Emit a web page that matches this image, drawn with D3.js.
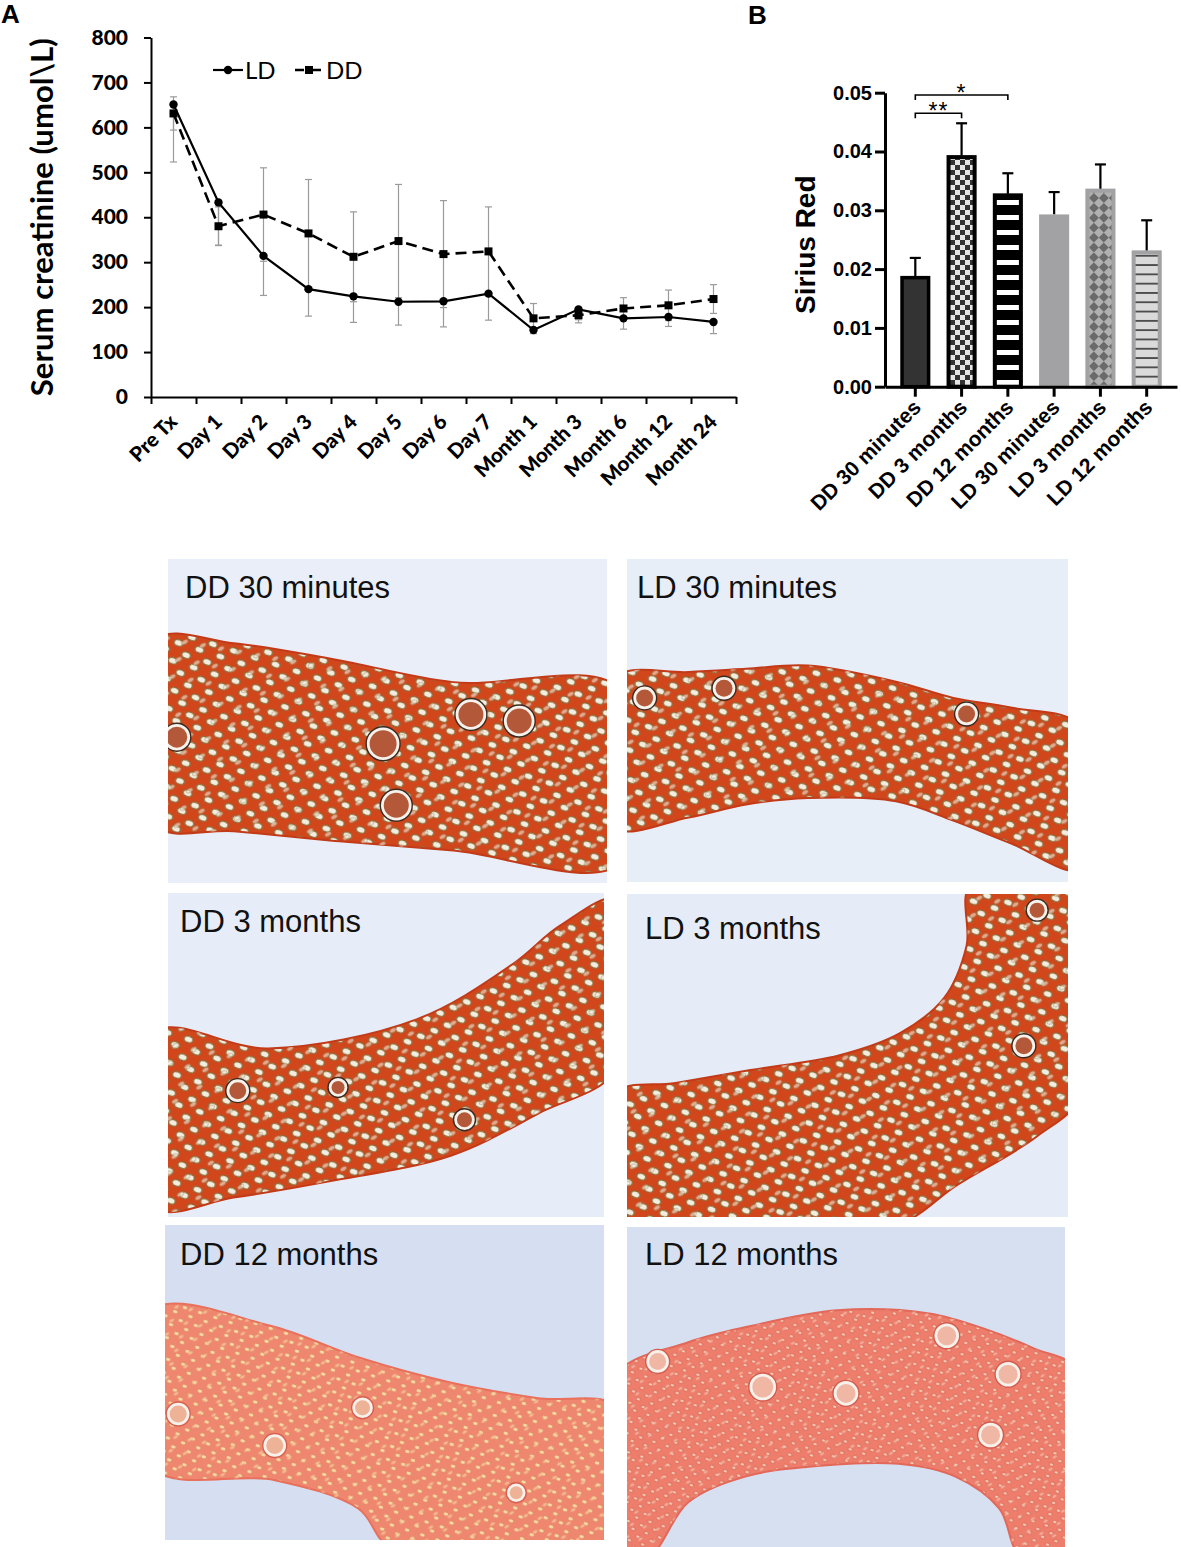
<!DOCTYPE html>
<html>
<head>
<meta charset="utf-8">
<script src="https://cdn.jsdelivr.net/npm/d3@7"></script>
<style>
  body { margin: 0; background: #fff; }
  svg { display: block; }
</style>
</head>
<body>
<div id="fig"></div>
<script>
// ---- Panel A: serum creatinine over time
const timepoints = ["Pre Tx", "Day 1", "Day 2", "Day 3", "Day 4", "Day 5", "Day 6", "Day 7",
                    "Month 1", "Month 3", "Month 6", "Month 12", "Month 24"];
const ldCreatinine = [651, 433, 314, 240, 224, 212, 213, 230, 149, 195, 175, 178, 167];
const ddCreatinine = [631, 380, 406, 364, 312, 347, 318, 324, 175, 182, 197, 204, 218];
const ldSD = [128, 95, 88, 60, 58, 52, 57, 59, 8, 30, 24, 21, 26];
const ddSD = [37, 43, 104, 120, 100, 126, 119, 99, 33, 10, 24, 34, 32];
const creatTicks = [0, 100, 200, 300, 400, 500, 600, 700, 800];

// ---- Panel B: Sirius Red quantification
const srGroups = ["DD 30 minutes", "DD 3 months", "DD 12 months", "LD 30 minutes", "LD 3 months", "LD 12 months"];
const srMeans = [0.0188, 0.0393, 0.0328, 0.0293, 0.0336, 0.0231];
const srSEM = [0.0031, 0.0055, 0.0035, 0.0038, 0.0042, 0.0052];
const srTicks = [0, 0.01, 0.02, 0.03, 0.04, 0.05];
const srComparisons = [{a: 0, b: 1, at: 0.0465, label: "**"}, {a: 0, b: 2, at: 0.0496, label: "*"}];

// ---- Micrograph captions
const photoLabels = ["DD 30 minutes", "LD 30 minutes", "DD 3 months", "LD 3 months", "DD 12 months", "LD 12 months"];

const W = 1181, H = 1547;
const svg = d3.select("#fig").append("svg").attr("width", W).attr("height", H);
svg.append("rect").attr("width", W).attr("height", H).attr("fill", "#fff");
const defs = svg.append("defs");

// ================= Panel A =================
const fontA = "Lato, 'Open Sans', sans-serif";
const gA = svg.append("g");
const xA = d3.scaleBand().domain(timepoints).range([151, 736]);
const edgeA = d3.scaleLinear().domain([0, timepoints.length]).range(xA.range());
const yA = d3.scaleLinear().domain([0, 800]).range([397, 37.5]);
const cx = d => xA(d) + xA.bandwidth() / 2;

gA.append("g").attr("transform", `translate(${xA.range()[0]},0)`)
  .call(d3.axisLeft(yA).tickValues(creatTicks).tickSize(7).tickSizeOuter(0).tickPadding(16))
  .call(g => g.selectAll("text").attr("font-family", fontA).attr("font-weight", 900)
    .attr("font-size", 21).attr("fill", "#000"));

gA.append("g").attr("transform", `translate(0,${yA(0)})`)
  .call(d3.axisBottom(edgeA).tickValues(d3.range(timepoints.length + 1)).tickFormat("")
    .tickSize(7).tickSizeOuter(0));

gA.selectAll(".domain, .tick line").attr("stroke", "#000").attr("stroke-width", 2);

gA.selectAll(".xlab").data(timepoints).join("text")
  .attr("transform", d => `translate(${cx(d) + 5},${yA(0) + 26}) rotate(-45)`)
  .attr("text-anchor", "end")
  .attr("font-family", fontA).attr("font-weight", 900).attr("font-size", 20.5)
  .text(d => d);

const yTitle = gA.append("text")
  .attr("transform", `translate(53,${(yA(0) + yA(800)) / 2}) rotate(-90)`)
  .attr("text-anchor", "middle")
  .attr("font-family", fontA).attr("font-weight", 700).attr("font-size", 31)
  .text("Serum creatinine (umol\\L)");
const tl = yTitle.node().getComputedTextLength();
yTitle.attr("font-size", 31 * 358 / tl);

// error bars (grey)
const errCol = "#9a9a9a";
function errBar(g, x, y1, y2, capTop, capBot) {
  g.append("line").attr("x1", x).attr("x2", x).attr("y1", y1).attr("y2", y2)
    .attr("stroke", errCol).attr("stroke-width", 1.2);
  if (capTop) g.append("line").attr("x1", x - 3.5).attr("x2", x + 3.5).attr("y1", y1).attr("y2", y1)
    .attr("stroke", errCol).attr("stroke-width", 1.2);
  if (capBot) g.append("line").attr("x1", x - 3.5).attr("x2", x + 3.5).attr("y1", y2).attr("y2", y2)
    .attr("stroke", errCol).attr("stroke-width", 1.2);
}
const gErr = gA.append("g");
timepoints.forEach((t, i) => {
  errBar(gErr, cx(t), yA(ddCreatinine[i] + ddSD[i]), yA(ddCreatinine[i] - ddSD[i]), true, true);
  errBar(gErr, cx(t), yA(ldCreatinine[i]), yA(ldCreatinine[i] - ldSD[i]), false, true);
});

const lineGen = d3.line().x((d, i) => cx(timepoints[i])).y(d => yA(d));
gA.append("path").datum(ddCreatinine).attr("d", lineGen).attr("fill", "none")
  .attr("stroke", "#000").attr("stroke-width", 2.6).attr("stroke-dasharray", "11,6");
gA.append("path").datum(ldCreatinine).attr("d", lineGen).attr("fill", "none")
  .attr("stroke", "#000").attr("stroke-width", 2.2);

gA.selectAll(".sq").data(ddCreatinine).join("rect")
  .attr("x", (d, i) => cx(timepoints[i]) - 4).attr("y", d => yA(d) - 4)
  .attr("width", 8).attr("height", 8).attr("fill", "#000");
gA.selectAll(".ci").data(ldCreatinine).join("circle")
  .attr("cx", (d, i) => cx(timepoints[i])).attr("cy", d => yA(d)).attr("r", 4.2).attr("fill", "#000");

// legend
const lg = gA.append("g").attr("transform", "translate(213,70)");
lg.append("line").attr("x1", 0).attr("x2", 30).attr("stroke", "#000").attr("stroke-width", 2.2);
lg.append("circle").attr("cx", 15).attr("r", 4.2).attr("fill", "#000");
lg.append("text").attr("x", 32).attr("y", 8.5).attr("font-family", fontA).attr("font-size", 24).text("LD");
lg.append("line").attr("x1", 82).attr("x2", 112).attr("stroke", "#000").attr("stroke-width", 2.6)
  .attr("stroke-dasharray", "9,8");
lg.append("rect").attr("x", 92).attr("y", -4).attr("width", 8).attr("height", 8).attr("fill", "#000");
lg.append("text").attr("x", 113).attr("y", 8.5).attr("font-family", fontA).attr("font-size", 24).text("DD");

svg.append("text").attr("x", 1).attr("y", 23).attr("font-family", "'Liberation Sans', Arial, sans-serif")
  .attr("font-weight", 700).attr("font-size", 26).text("A");

// ================= Panel B =================
const fontB = "'Liberation Sans', Arial, sans-serif";
const gB = svg.append("g");
const xB = d3.scaleBand().domain(srGroups).range([885, 1177]).paddingInner(0.35).paddingOuter(0.33);
const yB = d3.scaleLinear().domain([0, 0.05]).range([386.7, 92.7]);
const cB = d => xB(d) + xB.bandwidth() / 2;

// patterns
const pChk = defs.append("pattern").attr("id", "chk").attr("patternUnits", "userSpaceOnUse")
  .attr("width", 10).attr("height", 10);
pChk.append("rect").attr("width", 10).attr("height", 10).attr("fill", "#e6e6e6");
pChk.append("rect").attr("width", 5).attr("height", 5).attr("fill", "#333");
pChk.append("rect").attr("x", 5).attr("y", 5).attr("width", 5).attr("height", 5).attr("fill", "#333");

const pStr = defs.append("pattern").attr("id", "str").attr("patternUnits", "userSpaceOnUse")
  .attr("width", 40).attr("height", 15);
pStr.append("rect").attr("width", 40).attr("height", 15).attr("fill", "#000");
pStr.append("rect").attr("y", 5).attr("width", 40).attr("height", 5).attr("fill", "#fff");

const pDia = defs.append("pattern").attr("id", "dia").attr("patternUnits", "userSpaceOnUse")
  .attr("width", 14).attr("height", 14).attr("patternTransform", "rotate(45)");
pDia.append("rect").attr("width", 14).attr("height", 14).attr("fill", "#6a6a6a");
pDia.append("rect").attr("width", 7).attr("height", 7).attr("fill", "#b0b0b0");
pDia.append("rect").attr("x", 7).attr("y", 7).attr("width", 7).attr("height", 7).attr("fill", "#b0b0b0");

const pLin = defs.append("pattern").attr("id", "lin").attr("patternUnits", "userSpaceOnUse")
  .attr("width", 40).attr("height", 9.3);
pLin.append("rect").attr("width", 40).attr("height", 9.3).attr("fill", "#dadada");
pLin.append("rect").attr("y", 4).attr("width", 40).attr("height", 1.3).attr("fill", "#111");

const barStyle = [
  {fill: "#333333", stroke: "#000", sw: 3.5},
  {fill: "url(#chk)", stroke: "#000", sw: 4},
  {fill: "url(#str)", stroke: "#000", sw: 4},
  {fill: "#a2a2a4", stroke: "#a2a2a4", sw: 3},
  {fill: "url(#dia)", stroke: "#a2a2a4", sw: 4},
  {fill: "url(#lin)", stroke: "#a2a2a4", sw: 4}
];

// error bars (behind bars)
gB.selectAll(".eb").data(srMeans).join("line")
  .attr("x1", (d, i) => cB(srGroups[i])).attr("x2", (d, i) => cB(srGroups[i]))
  .attr("y1", d => yB(d)).attr("y2", (d, i) => yB(d + srSEM[i]))
  .attr("stroke", "#000").attr("stroke-width", 2.2);
gB.selectAll(".ec").data(srMeans).join("line")
  .attr("x1", (d, i) => cB(srGroups[i]) - 5.5).attr("x2", (d, i) => cB(srGroups[i]) + 5.5)
  .attr("y1", (d, i) => yB(d + srSEM[i])).attr("y2", (d, i) => yB(d + srSEM[i]))
  .attr("stroke", "#000").attr("stroke-width", 2.2);

gB.selectAll(".bar").data(srMeans).join("rect")
  .attr("x", (d, i) => xB(srGroups[i]) + barStyle[i].sw / 2)
  .attr("width", (d, i) => xB.bandwidth() - barStyle[i].sw)
  .attr("y", d => yB(d) + 1.5)
  .attr("height", d => yB(0) - yB(d) - 1.5)
  .attr("fill", (d, i) => barStyle[i].fill)
  .attr("stroke", (d, i) => barStyle[i].stroke)
  .attr("stroke-width", (d, i) => barStyle[i].sw);

gB.append("g").attr("transform", `translate(${xB.range()[0]},0)`)
  .call(d3.axisLeft(yB).tickValues(srTicks).tickFormat(d3.format(".2f")).tickSize(10).tickSizeOuter(0).tickPadding(3))
  .call(g => g.selectAll("text").attr("font-family", fontB).attr("font-weight", 700)
    .attr("font-size", 20).attr("fill", "#000"));
gB.append("g").attr("transform", `translate(0,${yB(0)})`)
  .call(d3.axisBottom(xB).tickSize(10).tickSizeOuter(0).tickFormat(""));
gB.selectAll(".domain, .tick line").attr("stroke", "#000").attr("stroke-width", 3);

gB.selectAll(".xl").data(srGroups).join("text")
  .attr("transform", d => `translate(${cB(d) + 7},${yB(0) + 22}) rotate(-45)`)
  .attr("text-anchor", "end")
  .attr("font-family", fontB).attr("font-weight", 700).attr("font-size", 21)
  .text(d => d);

gB.append("text").attr("transform", `translate(815,${(yB(0) + yB(0.05)) / 2 + 5}) rotate(-90)`)
  .attr("text-anchor", "middle").attr("font-family", fontB).attr("font-weight", 700)
  .attr("font-size", 28).text("Sirius Red");

srComparisons.forEach(c => {
  const x1 = cB(srGroups[c.a]), x2 = cB(srGroups[c.b]), y = yB(c.at);
  gB.append("path").attr("d", `M${x1},${y + 5}V${y}H${x2}V${y + 5}`)
    .attr("fill", "none").attr("stroke", "#000").attr("stroke-width", 1.6);
  gB.append("text").attr("x", (x1 + x2) / 2).attr("y", y + 6).attr("text-anchor", "middle")
    .attr("font-family", fontB).attr("font-size", 23).attr("letter-spacing", 1).text(c.label);
});

svg.append("text").attr("x", 748).attr("y", 24).attr("font-family", fontB)
  .attr("font-weight", 700).attr("font-size", 26).text("B");

// ================= Micrographs (drawn approximations) =================
const photoBoxes = [
  {x: 168, y: 559, w: 439, h: 324}, {x: 627, y: 559, w: 441, h: 323},
  {x: 168, y: 893, w: 436, h: 324}, {x: 627, y: 894, w: 441, h: 323},
  {x: 165, y: 1225, w: 439, h: 315}, {x: 627, y: 1227, w: 438, h: 320}
];
const labelOffset = [[17, 39], [10, 39], [12, 39], [18, 45], [15, 40], [18, 38]];
const photoBg = ["#e9eef8", "#e8eef8", "#e7edf8", "#e6ecf7", "#d5dff1", "#d7e0f1"];
const tissueKind = ["dense", "dense", "dense", "dense", "paleY", "paleP"];
const tissueOutline = [
  [[-.03,.25],[.15,.26],[.38,.31],[.65,.38],[1.03,.40],[1.03,.94],[.65,.90],[.38,.87],[.15,.84],[-.03,.82]],
  [[-.03,.37],[.14,.35],[.27,.34],[.41,.33],[.61,.38],[.74,.43],[.87,.46],[1.03,.52],
   [1.03,.96],[.87,.88],[.74,.81],[.61,.75],[.41,.74],[.27,.76],[.14,.80],[-.03,.83]],
  [[-.03,.43],[.23,.48],[.57,.39],[.79,.22],[.9,.1],[1.03,.02],
   [1.03,.54],[.85,.68],[.65,.81],[.37,.89],[.15,.94],[-.03,.97]],
  [[-.03,.62],[.11,.585],[.28,.545],[.48,.50],[.62,.43],[.72,.32],[.77,.16],[.78,-.03],
   [1.03,-.03],[1.03,.62],[.93,.75],[.75,.90],[.6,1.03],[-.03,1.03]],
  [[-.03,.27],[.24,.32],[.44,.42],[.65,.50],[.85,.55],[1.03,.58],
   [1.03,1.03],[.52,1.03],[.44,.90],[.25,.81],[-.03,.77]],
  [[-.03,.47],[.14,.36],[.28,.31],[.48,.26],[.69,.27],[.82,.32],[.93,.38],[1.03,.45],
   [1.03,1.03],[.90,1.03],[.85,.88],[.75,.78],[.62,.74],[.41,.75],[.27,.78],[.14,.86],[.05,1.03],[-.03,1.03]]
];
const glomeruli = [
  [[.49,.57,15],[.69,.48,14],[.80,.50,14],[.52,.76,14],[.02,.55,12]],
  [[.77,.48,10],[.04,.43,10],[.22,.40,10]],
  [[.16,.61,10],[.39,.60,8],[.68,.70,9]],
  [[.90,.47,10],[.93,.05,9]],
  [[.03,.60,10],[.80,.85,8],[.25,.70,10],[.45,.58,9]],
  [[.73,.34,11],[.87,.46,11],[.31,.50,12],[.50,.52,11],[.83,.65,11],[.07,.42,10]]
];
const kinds = {
  dense: {base: "#d2461c", hole: "#f3ede0", edge: "#8c6a36", line: "#c23a18", glom: "#b4583a", gEdge: "#3a2a20", s: 11, hr: .42},
  paleY: {base: "#ef8670", hole: "#f8dca8", edge: "#e88a6a", line: "#e8705c", glom: "#eeb296", gEdge: "#d8604e", s: 8, hr: .38},
  paleP: {base: "#ee7d6c", hole: "#f7d2bc", edge: "#e47866", line: "#e2685a", glom: "#f0b8a4", gEdge: "#d45c4e", s: 7, hr: .36}
};
Object.entries(kinds).forEach(([k, v]) => {
  [[0, ""], [1, "b"]].forEach(([j, suf]) => {
    const s = v.s + j * 3;
    const p = defs.append("pattern").attr("id", "tis-" + k + suf).attr("patternUnits", "userSpaceOnUse")
      .attr("width", s * 2).attr("height", s * 1.7).attr("patternTransform", `rotate(${j ? -30 : 18})`);
    if (!j) p.append("rect").attr("width", s * 2).attr("height", s * 1.7).attr("fill", v.base);
    [[.5, .42], [1.5, 1.27]].forEach(([ex, ey]) => {
      p.append("ellipse").attr("cx", ex * s).attr("cy", ey * s)
        .attr("rx", s * (j ? .26 : v.hr)).attr("ry", s * (j ? .16 : v.hr * .7))
        .attr("fill", v.hole).attr("stroke", v.edge).attr("stroke-width", j ? .8 : 1.4)
        .attr("opacity", j ? .6 : 1);
    });
  });
});

photoBoxes.forEach((b, i) => {
  const g = svg.append("g");
  const px = d3.scaleLinear().domain([0, 1]).range([b.x, b.x + b.w]);
  const py = d3.scaleLinear().domain([0, 1]).range([b.y, b.y + b.h]);
  defs.append("clipPath").attr("id", "clip" + i)
    .append("rect").attr("x", b.x).attr("y", b.y).attr("width", b.w).attr("height", Math.min(b.h, H - b.y));
  g.attr("clip-path", `url(#clip${i})`);
  g.append("rect").attr("x", b.x).attr("y", b.y).attr("width", b.w).attr("height", b.h).attr("fill", photoBg[i]);
  const k = kinds[tissueKind[i]];
  const shape = d3.line().x(d => px(d[0])).y(d => py(d[1])).curve(d3.curveCatmullRomClosed.alpha(0.5));
  g.append("path").attr("d", shape(tissueOutline[i])).attr("fill", `url(#tis-${tissueKind[i]})`)
    .attr("stroke", k.line).attr("stroke-width", 2);
  g.append("path").attr("d", shape(tissueOutline[i])).attr("fill", `url(#tis-${tissueKind[i]}b)`);
  g.selectAll(".gl").data(glomeruli[i]).join("circle")
    .attr("cx", d => px(d[0])).attr("cy", d => py(d[1])).attr("r", d => d[2] + 2)
    .attr("fill", "#f6f1ea").attr("stroke", k.gEdge).attr("stroke-width", 1.4);
  g.selectAll(".gi").data(glomeruli[i]).join("circle")
    .attr("cx", d => px(d[0])).attr("cy", d => py(d[1])).attr("r", d => d[2] - 1.5)
    .attr("fill", k.glom);
  g.append("text").attr("x", b.x + labelOffset[i][0]).attr("y", b.y + labelOffset[i][1])
    .attr("font-family", fontB).attr("font-size", 31).attr("fill", "#111").text(photoLabels[i]);
});
</script>
</body>
</html>
